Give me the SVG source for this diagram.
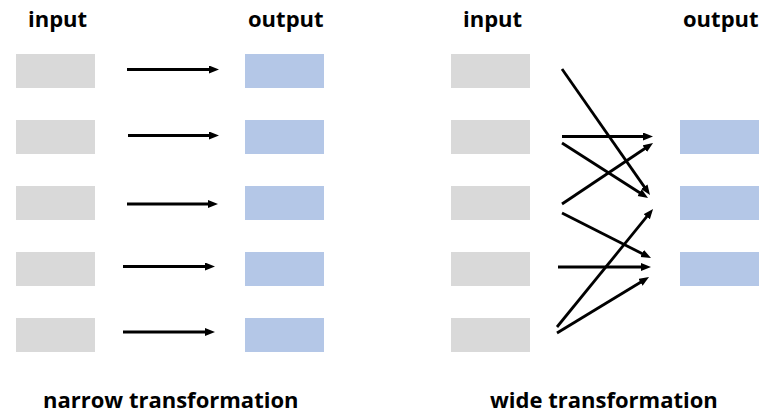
<svg xmlns="http://www.w3.org/2000/svg" width="776" height="420" viewBox="0 0 776 420">
<style>
.in{fill:#d9d9d9}
.out{fill:#b4c7e7}
.t{font-family:"Open Sans","Noto Sans",sans-serif;font-weight:bold;font-size:22px;fill:#000}
.c line{stroke:#000;stroke-width:2.8;marker-end:url(#ah)}
</style>
<defs>
<marker id="ah" markerUnits="userSpaceOnUse" markerWidth="11" markerHeight="9" refX="2" refY="4" orient="auto" viewBox="0 0 11 9">
<path d="M0,0 L10,4 L0,8 z" fill="#000"/>
</marker>
</defs>
<rect width="776" height="420" fill="#fff"/>
<g id="labels">
<text class="t" x="28" y="27">input</text>
<text class="t" x="248" y="27">output</text>
<text class="t" x="463" y="27">input</text>
<text class="t" x="683" y="27">output</text>
<text class="t" x="43" y="408">narrow transformation</text>
<text class="t" x="490" y="408">wide transformation</text>
</g>
<g id="narrow-in1"><rect class="in" x="16" y="54" width="79" height="34"/></g>
<g id="narrow-in2"><rect class="in" x="16" y="120" width="79" height="34"/></g>
<g id="narrow-in3"><rect class="in" x="16" y="186" width="79" height="34"/></g>
<g id="narrow-in4"><rect class="in" x="16" y="252" width="79" height="34"/></g>
<g id="narrow-in5"><rect class="in" x="16" y="318" width="79" height="34"/></g>
<g id="narrow-out1"><rect class="out" x="245" y="54" width="79" height="34"/></g>
<g id="narrow-out2"><rect class="out" x="245" y="120" width="79" height="34"/></g>
<g id="narrow-out3"><rect class="out" x="245" y="186" width="79" height="34"/></g>
<g id="narrow-out4"><rect class="out" x="245" y="252" width="79" height="34"/></g>
<g id="narrow-out5"><rect class="out" x="245" y="318" width="79" height="34"/></g>
<g id="wide-in1"><rect class="in" x="451" y="54" width="79" height="34"/></g>
<g id="wide-in2"><rect class="in" x="451" y="120" width="79" height="34"/></g>
<g id="wide-in3"><rect class="in" x="451" y="186" width="79" height="34"/></g>
<g id="wide-in4"><rect class="in" x="451" y="252" width="79" height="34"/></g>
<g id="wide-in5"><rect class="in" x="451" y="318" width="79" height="34"/></g>
<g id="wide-out1"><rect class="out" x="680" y="120" width="79" height="34"/></g>
<g id="wide-out2"><rect class="out" x="680" y="186" width="79" height="34"/></g>
<g id="wide-out3"><rect class="out" x="680" y="252" width="79" height="34"/></g>
<g id="connectors" class="c">
<line x1="127" y1="69.5" x2="211" y2="69.5"/>
<line x1="128" y1="135.5" x2="211" y2="135.5"/>
<line x1="127" y1="204" x2="210" y2="204"/>
<line x1="123" y1="266.5" x2="207" y2="266.5"/>
<line x1="123" y1="332" x2="207" y2="332"/>
<line x1="562" y1="69" x2="645.4" y2="188.4"/>
<line x1="562" y1="136.5" x2="645" y2="136.5"/>
<line x1="562" y1="143" x2="641.3" y2="193.7"/>
<line x1="562" y1="204" x2="646.4" y2="147.5"/>
<line x1="562" y1="213" x2="643.9" y2="254.4"/>
<line x1="557" y1="327" x2="648" y2="215.2"/>
<line x1="558" y1="267" x2="643" y2="267"/>
<line x1="557" y1="333" x2="642.2" y2="281.2"/>
</g>
</svg>
